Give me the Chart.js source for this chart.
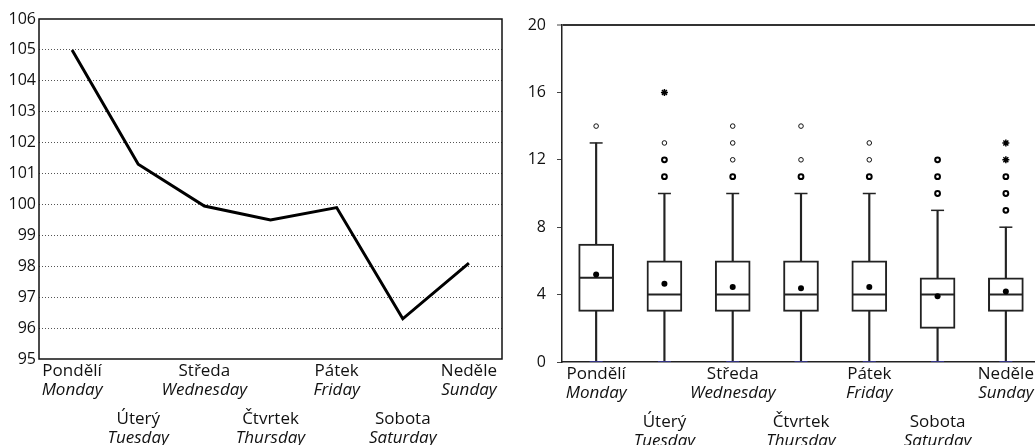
<!DOCTYPE html>
<html>
<head>
<meta charset="utf-8">
<script src="https://cdn.jsdelivr.net/npm/chart.js@4/dist/chart.umd.min.js"></script>
<style>
  html, body { margin: 0; padding: 0; background: #fff; overflow: hidden; }
  #wrap { position: relative; width: 1035px; height: 445px; overflow: hidden; }
  #lineCanvas { position: absolute; left: 0; top: 0; }
  #boxCanvas { position: absolute; left: 515px; top: 0; }
</style>
</head>
<body>
<div id="wrap">
  <canvas id="lineCanvas" width="510" height="445"></canvas>
  <canvas id="boxCanvas" width="530" height="445"></canvas>
</div>
<script>
// Day names (Czech / English)
const daysCz = ["Pondělí", "Úterý", "Středa", "Čtvrtek", "Pátek", "Sobota", "Neděle"];
const daysEn = ["Monday", "Tuesday", "Wednesday", "Thursday", "Friday", "Saturday", "Sunday"];

// Left panel: daily index
const indexValues = [105.0, 101.3, 99.95, 99.5, 99.9, 96.3, 98.1];
const indexTicks = [95, 96, 97, 98, 99, 100, 101, 102, 103, 104, 105, 106];

// Right panel: box plot summary per day
const boxMin    = [0, 0, 0, 0, 0, 0, 0];
const boxQ1     = [3, 3, 3, 3, 3, 2, 3];
const boxMedian = [5, 4, 4, 4, 4, 4, 4];
const boxQ3     = [7, 6, 6, 6, 6, 5, 5];
const boxMax    = [13, 10, 10, 10, 10, 9, 8];
const boxMean   = [5.2, 4.65, 4.45, 4.37, 4.45, 3.9, 4.19];
// Outliers: [dayIndex, value]
const outliersMild = [
  [0, 14],
  [1, 13],
  [2, 12], [2, 13], [2, 14],
  [3, 12], [3, 14],
  [4, 12], [4, 13]
];
const outliersBold = [
  [1, 11], [1, 12],
  [2, 11],
  [3, 11],
  [4, 11],
  [5, 10], [5, 11], [5, 12],
  [6, 9], [6, 10], [6, 11]
];
const outliersExtreme = [[1, 16], [6, 12], [6, 13]];
const boxTicks = [0, 4, 8, 12, 16, 20];

const FONT = "'Open Sans', 'Noto Sans', sans-serif";

// Two-row bilingual category labels under the x axis
const dayLabelsPlugin = {
  id: 'dayLabels',
  afterDraw(chart) {
    const ctx = chart.ctx;
    const xs = chart.scales.x;
    const base = chart.chartArea.bottom;
    ctx.save();
    ctx.fillStyle = '#111';
    ctx.textAlign = 'center';
    ctx.textBaseline = 'middle';
    daysCz.forEach((cz, i) => {
      const x = xs.getPixelForValue(i);
      const rowOff = (i % 2 === 0) ? 0 : 48;
      ctx.font = "17px " + FONT;
      ctx.fillText(cz, x, base + 12 + rowOff);
      ctx.font = "italic 17px " + FONT;
      ctx.fillText(daysEn[i], x, base + 31 + rowOff);
    });
    ctx.restore();
  }
};

// Closed frame around the left plot area
const framePlugin = {
  id: 'frame',
  afterDatasetsDraw(chart) {
    const a = chart.chartArea;
    const ctx = chart.ctx;
    ctx.save();
    ctx.strokeStyle = '#111';
    ctx.lineWidth = 1.5;
    ctx.strokeRect(a.left, a.top, a.right - a.left, a.bottom - a.top);
    ctx.restore();
  }
};

new Chart(document.getElementById('lineCanvas'), {
  type: 'line',
  data: {
    labels: daysCz,
    datasets: [{
      data: indexValues,
      borderColor: '#000',
      borderWidth: 3,
      pointRadius: 0,
      tension: 0,
      fill: false
    }]
  },
  options: {
    responsive: false,
    animation: false,
    layout: { autoPadding: false, padding: { top: 19, right: 8, bottom: 86, left: 0 } },
    plugins: { legend: { display: false }, tooltip: { enabled: false } },
    scales: {
      x: {
        offset: true,
        ticks: { display: false },
        grid: { display: false, drawTicks: false },
        border: { display: false },
        afterFit(s) { s.height = 0; }
      },
      y: {
        min: 95, max: 106,
        afterBuildTicks(s) { s.ticks = indexTicks.map(v => ({ value: v })); },
        afterFit(s) { s.width = 39; },
        ticks: { color: '#111', font: { family: FONT, size: 16 }, padding: 3 },
        grid: {
          drawTicks: false,
          color: c => (c.tick && (c.tick.value === 95 || c.tick.value === 106)) ? 'rgba(0,0,0,0)' : '#555',
          lineWidth: 1,
          borderDash: [1, 2]
        },
        border: { display: false, dash: [1, 2] }
      }
    }
  },
  plugins: [dayLabelsPlugin, framePlugin]
});

// Box plot built from floating bars and styled points
const mkPoints = (list) => list.map(([i, v]) => ({ x: daysCz[i], y: v }));

new Chart(document.getElementById('boxCanvas'), {
  type: 'bar',
  data: {
    labels: daysCz,
    datasets: [
      { // whiskers
        type: 'bar',
        data: boxMin.map((m, i) => [m, boxMax[i]]),
        backgroundColor: '#222',
        barThickness: 1.5,
        grouped: false,
        order: 6
      },
      { // boxes
        type: 'bar',
        data: boxQ1.map((q, i) => [q, boxQ3[i]]),
        backgroundColor: '#fff',
        borderColor: '#222',
        borderWidth: 2,
        borderSkipped: false,
        barThickness: 35,
        grouped: false,
        order: 5
      },
      { // medians
        type: 'line',
        data: boxMedian,
        showLine: false,
        pointStyle: 'line',
        pointRadius: 17,
        borderColor: '#222',
        borderWidth: 2,
        order: 4
      },
      { // upper whisker caps
        type: 'line',
        data: boxMax,
        showLine: false,
        pointStyle: 'line',
        pointRadius: 6.5,
        borderColor: '#222',
        borderWidth: 1.5,
        order: 4
      },
      { // lower whisker caps
        type: 'line',
        data: boxMin,
        showLine: false,
        pointStyle: 'line',
        pointRadius: 6.5,
        borderColor: '#3a3aa8',
        borderWidth: 1.5,
        order: 1
      },
      { // means
        type: 'line',
        data: boxMean,
        showLine: false,
        pointStyle: 'circle',
        pointRadius: 3,
        backgroundColor: '#000',
        borderColor: '#000',
        borderWidth: 0,
        order: 3
      },
      { // mild outliers
        type: 'line',
        data: mkPoints(outliersMild),
        showLine: false,
        pointStyle: 'circle',
        pointRadius: 2.3,
        backgroundColor: '#fff',
        borderColor: '#111',
        borderWidth: 1,
        order: 2
      },
      { // mild outliers (repeated observations)
        type: 'line',
        data: mkPoints(outliersBold),
        showLine: false,
        pointStyle: 'circle',
        pointRadius: 2.4,
        backgroundColor: '#fff',
        borderColor: '#000',
        borderWidth: 2,
        order: 2
      },
      { // extreme outliers
        type: 'line',
        data: mkPoints(outliersExtreme),
        showLine: false,
        pointStyle: 'star',
        pointRadius: 3.5,
        borderColor: '#000',
        borderWidth: 1.5,
        order: 2
      }
    ]
  },
  options: {
    responsive: false,
    animation: false,
    layout: { autoPadding: false, padding: { top: 25, right: 5, bottom: 83, left: 0 } },
    plugins: { legend: { display: false }, tooltip: { enabled: false } },
    scales: {
      x: {
        offset: true,
        ticks: { display: false },
        grid: { display: false, drawTicks: false },
        border: { display: true, color: '#222', width: 1.5 },
        afterFit(s) { s.height = 0; }
      },
      y: {
        min: 0, max: 20,
        afterBuildTicks(s) { s.ticks = boxTicks.map(v => ({ value: v })); },
        afterFit(s) { s.width = 47; },
        ticks: { color: '#111', font: { family: FONT, size: 16 }, padding: 11 },
        grid: {
          drawTicks: true,
          tickLength: 5,
          tickColor: '#444',
          tickWidth: 1,
          color: c => (c.tick && c.tick.value === 20) ? '#333' : 'rgba(0,0,0,0)',
          lineWidth: c => (c.tick && c.tick.value === 20) ? 2 : 1
        },
        border: { display: true, color: '#222', width: 1.5 }
      }
    }
  },
  plugins: [dayLabelsPlugin]
});
</script>
</body>
</html>
